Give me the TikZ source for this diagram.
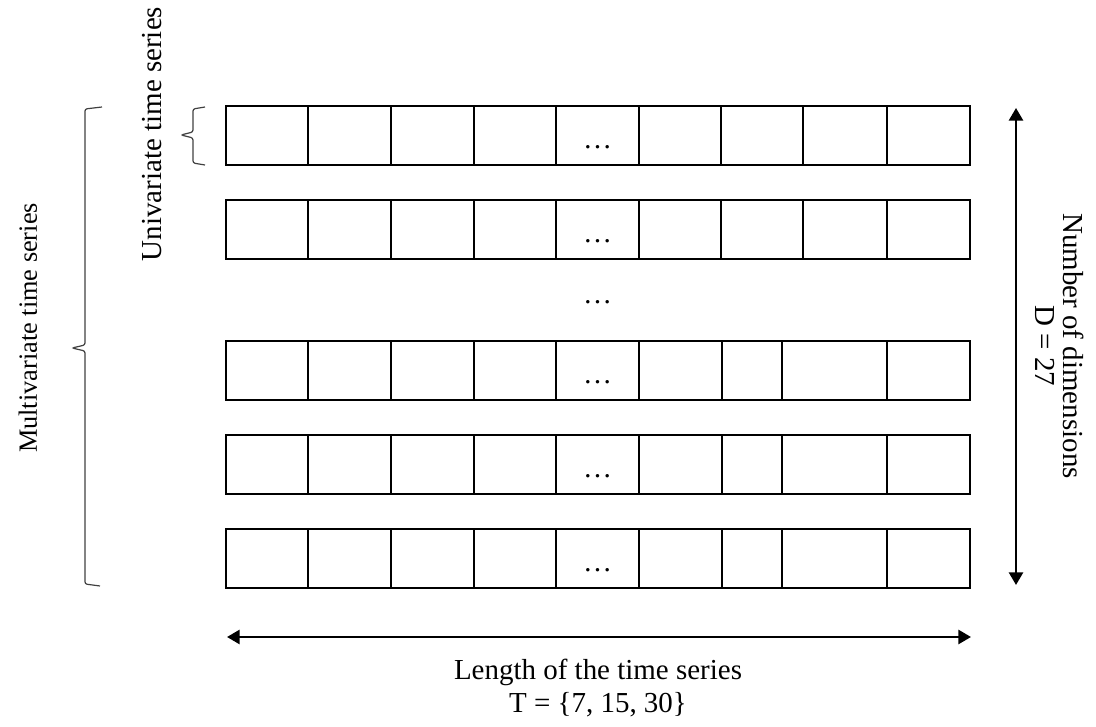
\documentclass[tikz,border=0pt]{standalone}
\usepackage{fontspec}
\setmainfont{Liberation Serif}
\usetikzlibrary{arrows.meta}

\begin{document}
\begin{tikzpicture}[
    x=0.025cm, y=0.025cm,
    cell/.style={draw, line width=1.3pt},
    label/.style={font=\fontsize{20.6}{24}\selectfont},
    dots/.style={font=\fontsize{20.6}{24}\selectfont, anchor=base},
    brace/.style={draw=black!75, line width=0.85pt, rounded corners=1.5pt},
    span/.style={{Triangle[width=10pt,length=9pt]}-{Triangle[width=10pt,length=9pt]}, line width=1.8pt}
]
\useasboundingbox (0,0) rectangle (1096,727);

% Upper rows
\foreach \r/\yt in {1/621, 2/527} {
  \foreach \xa/\xb in {226/308, 308/391, 391/474, 474/556, 556/639, 639/721, 721/803, 803/887, 887/970}
    \draw[cell] (\xa,\yt) rectangle (\xb,\yt-59);
  \node[dots] (d\r) at (597.5,\yt-43) {\dots};
}

% Skipped rows
\node[dots] (dmid) at (597.5,423) {\dots};

% Lower rows
\foreach \r/\yt in {3/386, 4/292, 5/198} {
  \foreach \xa/\xb in {226/308, 308/391, 391/474, 474/556, 556/639, 639/722, 722/782, 782/887, 887/970}
    \draw[cell] (\xa,\yt) rectangle (\xb,\yt-59);
  \node[dots] (d\r) at (597.5,\yt-43) {\dots};
}

% Braces
\draw[brace] (102,620) -- (85,618) -- (85,382) -- (72,379) -- (85,376) -- (85,143) -- (100,141);
\draw[brace] (205,620) -- (193,618) -- (193,595) -- (181,592) -- (193,589) -- (193,564) -- (205,562);

% Dimension and length arrows
\coordinate (ytop) at (1016,619);
\coordinate (ybot) at (1016,142);
\draw[span] (ytop) -- (ybot);
\coordinate (xleft) at (227,90);
\coordinate (xright) at (971,90);
\draw[span] (xleft) -- (xright);

% Labels
\node[font=\fontsize{18.7}{22}\selectfont, rotate=90] (multi) at (28,399) {Multivariate time series};
\node[label, rotate=90] (uni) at (152,593) {Univariate time series};
\node[label, rotate=-90] (ndim) at (1074,381) {Number of dimensions};
\node[label, rotate=-90] (dval) at (1045,381) {D = 27};
\node[label] (len) at (598,55) {Length of the time series};
\node[label] (tval) at (598,22) {T = \{7, 15, 30\}};

\end{tikzpicture}
\end{document}
